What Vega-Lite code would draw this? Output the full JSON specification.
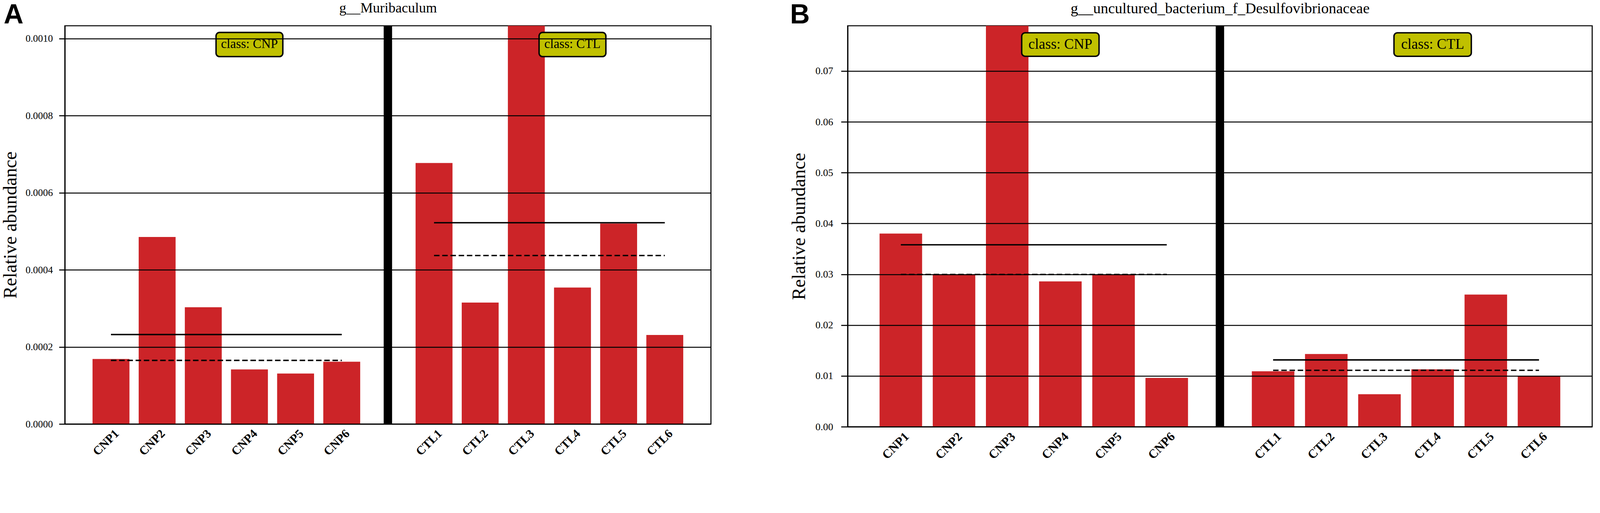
{
  "$schema": "https://vega.github.io/schema/vega-lite/v6.json",
  "background": "white",
  "padding": {"left": 2, "top": 0, "right": 0, "bottom": 0},
  "datasets": {
    "bars": [
      {"panel": "A", "group": "CNP", "sample": "CNP1", "value": 0.0001685},
      {"panel": "A", "group": "CNP", "sample": "CNP2", "value": 0.000485},
      {"panel": "A", "group": "CNP", "sample": "CNP3", "value": 0.0003027},
      {"panel": "A", "group": "CNP", "sample": "CNP4", "value": 0.0001415},
      {"panel": "A", "group": "CNP", "sample": "CNP5", "value": 0.0001308},
      {"panel": "A", "group": "CNP", "sample": "CNP6", "value": 0.0001615},
      {"panel": "A", "group": "CTL", "sample": "CTL1", "value": 0.000677},
      {"panel": "A", "group": "CTL", "sample": "CTL2", "value": 0.000315},
      {"panel": "A", "group": "CTL", "sample": "CTL3", "value": 0.001033},
      {"panel": "A", "group": "CTL", "sample": "CTL4", "value": 0.000354},
      {"panel": "A", "group": "CTL", "sample": "CTL5", "value": 0.00052},
      {"panel": "A", "group": "CTL", "sample": "CTL6", "value": 0.000231},
      {"panel": "B", "group": "CNP", "sample": "CNP1", "value": 0.038},
      {"panel": "B", "group": "CNP", "sample": "CNP2", "value": 0.03},
      {"panel": "B", "group": "CNP", "sample": "CNP3", "value": 0.0789},
      {"panel": "B", "group": "CNP", "sample": "CNP4", "value": 0.0286},
      {"panel": "B", "group": "CNP", "sample": "CNP5", "value": 0.0299},
      {"panel": "B", "group": "CNP", "sample": "CNP6", "value": 0.0096},
      {"panel": "B", "group": "CTL", "sample": "CTL1", "value": 0.0109},
      {"panel": "B", "group": "CTL", "sample": "CTL2", "value": 0.0143},
      {"panel": "B", "group": "CTL", "sample": "CTL3", "value": 0.0064},
      {"panel": "B", "group": "CTL", "sample": "CTL4", "value": 0.0113},
      {"panel": "B", "group": "CTL", "sample": "CTL5", "value": 0.026},
      {"panel": "B", "group": "CTL", "sample": "CTL6", "value": 0.01}
    ],
    "stats": [
      {"panel": "A", "group": "CNP", "first": "CNP1", "last": "CNP6", "mean": 0.000232, "median": 0.000165},
      {"panel": "A", "group": "CTL", "first": "CTL1", "last": "CTL6", "mean": 0.000522, "median": 0.000437},
      {"panel": "B", "group": "CNP", "first": "CNP1", "last": "CNP6", "mean": 0.0358, "median": 0.02995},
      {"panel": "B", "group": "CTL", "first": "CTL1", "last": "CTL6", "mean": 0.01315, "median": 0.0111}
    ],
    "classes": [
      {"panel": "A", "label": "class: CNP", "at": "CNP4"},
      {"panel": "A", "label": "class: CTL", "at": "CTL4"},
      {"panel": "B", "label": "class: CNP", "at": "CNP4"},
      {"panel": "B", "label": "class: CTL", "at": "CTL4"}
    ]
  },
  "bounds": "flush",
  "spacing": 350,
  "hconcat": [
    {
      "width": 1654,
      "height": 1020,
      "resolve": {"axis": {"x": "independent"}},
      "layer": [
        {
          "data": {"name": "bars"},
          "transform": [{"filter": "datum.panel === 'A'"}],
          "mark": {"type": "bar", "color": "#cc2428"},
          "encoding": {
            "x": {
              "field": "sample", "type": "nominal",
              "scale": {"domain": ["CNP1", "CNP2", "CNP3", "CNP4", "CNP5", "CNP6", " ", "CTL1", "CTL2", "CTL3", "CTL4", "CTL5", "CTL6"], "paddingInner": 0.2, "paddingOuter": 0.6},
              "axis": {"title": null, "labelAngle": -45, "labelAlign": "right", "labelBaseline": "top", "labelFont": "Liberation Serif", "labelFontWeight": "bold", "labelFontSize": 31, "labelColor": "black", "ticks": false, "tickSize": 0, "labelPadding": 9, "labelOffset": 5, "domain": true, "domainColor": "black", "domainWidth": 2.7, "grid": false, "zindex": 1, "labelOverlap": false}
            },
            "y": {
              "field": "value", "type": "quantitative", "title": "Relative abundance",
              "scale": {"domain": [0, 0.001033], "nice": false, "zero": true},
              "axis": {"title": "Relative abundance", "titleFont": "Liberation Serif", "titleFontSize": 48, "titleFontWeight": "normal", "titleColor": "black", "titlePadding": 13, "values": [0, 0.0002, 0.0004, 0.0006, 0.0008, 0.001], "format": ".4f", "labelFont": "Liberation Serif", "labelFontSize": 25.5, "labelColor": "black", "labelPadding": 16, "tickSize": 15, "tickWidth": 2.7, "tickColor": "black", "domain": true, "domainColor": "black", "domainWidth": 2.7, "grid": true, "gridColor": "black", "gridWidth": 2.7, "gridOpacity": 1, "zindex": 1, "labelOverlap": false}
            }
          }
        },
        {
          "data": {"values": [{}]},
          "mark": {"type": "rule", "color": "black", "strokeWidth": 21.5},
          "encoding": {"x": {"datum": " ", "type": "nominal", "axis": {"orient": "top", "title": "g__Muribaculum", "labels": false, "ticks": false, "domain": false, "grid": false, "titleX": 827, "titleY": -35, "titleAlign": "center", "titleBaseline": "alphabetic", "titleAngle": 0, "titleFont": "Liberation Serif", "titleFontSize": 36, "titleFontWeight": "normal", "titleColor": "black"}}}
        },
        {
          "data": {"name": "stats"},
          "transform": [{"filter": "datum.panel === 'A'"}],
          "mark": {"type": "rule", "color": "black", "strokeWidth": 3.6},
          "encoding": {
            "x": {"field": "first", "type": "nominal", "axis": {"orient": "top", "title": "A", "labels": false, "ticks": false, "domain": false, "grid": false, "titleX": -157, "titleY": -6.5, "titleAlign": "left", "titleBaseline": "alphabetic", "titleAngle": 0, "titleFont": "Liberation Sans", "titleFontSize": 70, "titleFontWeight": "bold", "titleColor": "black"}},
            "x2": {"field": "last"},
            "y": {"field": "mean", "type": "quantitative", "title": "Relative abundance"}
          }
        },
        {
          "data": {"name": "stats"},
          "transform": [{"filter": "datum.panel === 'A'"}],
          "mark": {"type": "rule", "color": "black", "strokeWidth": 3.6, "strokeDash": [14, 7]},
          "encoding": {
            "x": {"field": "first", "type": "nominal", "axis": null},
            "x2": {"field": "last"},
            "y": {"field": "median", "type": "quantitative", "title": "Relative abundance"}
          }
        },
        {
          "data": {"name": "classes"},
          "transform": [{"filter": "datum.panel === 'A'"}],
          "mark": {"type": "bar", "width": 171, "fill": "#c0c000", "stroke": "black", "strokeWidth": 3.6, "cornerRadius": 9},
          "encoding": {
            "x": {"field": "at", "type": "nominal", "axis": null},
            "y": {"datum": 0.0010157, "type": "quantitative", "title": "Relative abundance"},
            "y2": {"datum": 0.000953}
          }
        },
        {
          "data": {"name": "classes"},
          "transform": [{"filter": "datum.panel === 'A'"}],
          "mark": {"type": "text", "font": "Liberation Serif", "fontSize": 33, "color": "black", "align": "center", "baseline": "middle"},
          "encoding": {
            "x": {"field": "at", "type": "nominal", "axis": null},
            "y": {"datum": 0.000985, "type": "quantitative", "title": "Relative abundance"},
            "text": {"field": "label"}
          }
        }
      ]
    },
    {
      "width": 1906,
      "height": 1027,
      "resolve": {"axis": {"x": "independent"}},
      "layer": [
        {
          "data": {"name": "bars"},
          "transform": [{"filter": "datum.panel === 'B'"}],
          "mark": {"type": "bar", "color": "#cc2428"},
          "encoding": {
            "x": {
              "field": "sample", "type": "nominal",
              "scale": {"domain": ["CNP1", "CNP2", "CNP3", "CNP4", "CNP5", "CNP6", " ", "CTL1", "CTL2", "CTL3", "CTL4", "CTL5", "CTL6"], "paddingInner": 0.2, "paddingOuter": 0.6},
              "axis": {"title": null, "labelAngle": -45, "labelAlign": "right", "labelBaseline": "top", "labelFont": "Liberation Serif", "labelFontWeight": "bold", "labelFontSize": 32, "labelColor": "black", "ticks": false, "tickSize": 0, "labelPadding": 9, "labelOffset": 5, "domain": true, "domainColor": "black", "domainWidth": 2.7, "grid": false, "zindex": 1, "labelOverlap": false}
            },
            "y": {
              "field": "value", "type": "quantitative", "title": "Relative abundance",
              "scale": {"domain": [0, 0.0789], "nice": false, "zero": true},
              "axis": {"title": "Relative abundance", "titleFont": "Liberation Serif", "titleFontSize": 48, "titleFontWeight": "normal", "titleColor": "black", "titlePadding": 17, "values": [0, 0.01, 0.02, 0.03, 0.04, 0.05, 0.06, 0.07], "format": ".2f", "labelFont": "Liberation Serif", "labelFontSize": 26, "labelColor": "black", "labelPadding": 20.5, "tickSize": 17, "tickWidth": 2.7, "tickColor": "black", "domain": true, "domainColor": "black", "domainWidth": 2.7, "grid": true, "gridColor": "black", "gridWidth": 2.7, "gridOpacity": 1, "zindex": 1, "labelOverlap": false}
            }
          }
        },
        {
          "data": {"values": [{}]},
          "mark": {"type": "rule", "color": "black", "strokeWidth": 21.5},
          "encoding": {"x": {"datum": " ", "type": "nominal", "axis": {"orient": "top", "title": "g__uncultured_bacterium_f_Desulfovibrionaceae", "labels": false, "ticks": false, "domain": false, "grid": false, "titleX": 953, "titleY": -32.5, "titleAlign": "center", "titleBaseline": "alphabetic", "titleAngle": 0, "titleFont": "Liberation Serif", "titleFontSize": 38.5, "titleFontWeight": "normal", "titleColor": "black"}}}
        },
        {
          "data": {"name": "stats"},
          "transform": [{"filter": "datum.panel === 'B'"}],
          "mark": {"type": "rule", "color": "black", "strokeWidth": 3.6},
          "encoding": {
            "x": {"field": "first", "type": "nominal", "axis": {"orient": "top", "title": "B", "labels": false, "ticks": false, "domain": false, "grid": false, "titleX": -148, "titleY": -7, "titleAlign": "left", "titleBaseline": "alphabetic", "titleAngle": 0, "titleFont": "Liberation Sans", "titleFontSize": 70, "titleFontWeight": "bold", "titleColor": "black"}},
            "x2": {"field": "last"},
            "y": {"field": "mean", "type": "quantitative", "title": "Relative abundance"}
          }
        },
        {
          "data": {"name": "stats"},
          "transform": [{"filter": "datum.panel === 'B'"}],
          "mark": {"type": "rule", "color": "black", "strokeWidth": 3.6, "strokeDash": [14, 7]},
          "encoding": {
            "x": {"field": "first", "type": "nominal", "axis": null},
            "x2": {"field": "last"},
            "y": {"field": "median", "type": "quantitative", "title": "Relative abundance"}
          }
        },
        {
          "data": {"name": "classes"},
          "transform": [{"filter": "datum.panel === 'B'"}],
          "mark": {"type": "bar", "width": 198, "fill": "#c0c000", "stroke": "black", "strokeWidth": 3.6, "cornerRadius": 9},
          "encoding": {
            "x": {"field": "at", "type": "nominal", "axis": null},
            "y": {"datum": 0.07752, "type": "quantitative", "title": "Relative abundance"},
            "y2": {"datum": 0.07289}
          }
        },
        {
          "data": {"name": "classes"},
          "transform": [{"filter": "datum.panel === 'B'"}],
          "mark": {"type": "text", "font": "Liberation Serif", "fontSize": 37, "color": "black", "align": "center", "baseline": "middle"},
          "encoding": {
            "x": {"field": "at", "type": "nominal", "axis": null},
            "y": {"datum": 0.07524, "type": "quantitative", "title": "Relative abundance"},
            "text": {"field": "label"}
          }
        }
      ]
    }
  ],
  "config": {
    "view": {"stroke": "black", "strokeWidth": 2.7},
    "font": "Liberation Serif"
  }
}
